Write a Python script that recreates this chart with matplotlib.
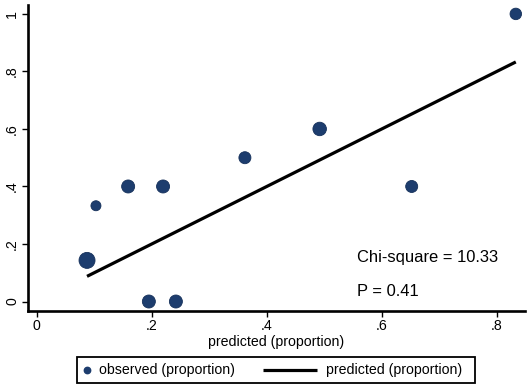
import matplotlib
matplotlib.use("Agg")
import matplotlib.pyplot as plt
from matplotlib.lines import Line2D
from matplotlib.patches import Rectangle

plt.rcParams['font.family'] = ['Liberation Sans', 'DejaVu Sans']

# data
predicted = [0.0875, 0.103, 0.159, 0.2197, 0.195, 0.242, 0.362, 0.492, 0.652, 0.833]
observed = [0.143, 0.333, 0.4, 0.4, 0.0, 0.0, 0.5, 0.6, 0.4, 1.0]
weights = [16, 10, 13, 13, 13, 13, 12, 13.5, 12, 11.5]  # relative marker diameters
xticks = [0, 0.2, 0.4, 0.6, 0.8]
xticklabels = ['0', '.2', '.4', '.6', '.8']
yticks = [0, 0.2, 0.4, 0.6, 0.8, 1.0]
yticklabels = ['0', '.2', '.4', '.6', '.8', '1']
legend_labels = ['observed (proportion)', 'predicted (proportion)']
chi_text = "Chi-square = 10.33"
p_text = "P = 0.41"

navy = '#1d3d6e'
W, H = 529, 390

fig = plt.figure(figsize=(W/100, H/100), dpi=100)
ax = fig.add_axes([27.5/W, 1-311/H, (525-27.5)/W, (311-5)/H])

sizes = [(w*0.72)**2 for w in weights]
ax.scatter(predicted, observed, s=sizes, color=navy, edgecolors='#15305a', linewidths=0.6, zorder=3)
order = sorted(range(len(predicted)), key=lambda i: predicted[i])
px = [predicted[i] for i in order]
ax.plot(px, px, color='black', lw=2.3, solid_capstyle='butt', zorder=2)

ax.set_xlim(-0.016, 0.849)
ax.set_ylim(-0.033, 1.031)
ax.set_xticks(xticks)
ax.set_xticklabels(xticklabels)
ax.set_yticks(yticks)
ax.set_yticklabels(yticklabels, rotation=90, va='center')
for s in ['top', 'right']:
    ax.spines[s].set_visible(False)
for s in ['left', 'bottom']:
    ax.spines[s].set_linewidth(1.9)
ax.tick_params(axis='both', length=4, width=1.0, labelsize=10.2, pad=2, color='black')
ax.set_xlabel('predicted (proportion)', fontsize=10.2, labelpad=1)

ax.text(0.557, 0.138, chi_text, fontsize=11.9, va='baseline', ha='left')
ax.text(0.557, 0.019, p_text, fontsize=11.9, va='baseline', ha='left')

# manual legend (figure coordinates)
def fx(p):
    return p / W

def fy(p):
    return 1 - p / H

fig.patches.append(Rectangle((fx(77), fy(383)), fx(475) - fx(77), fy(357) - fy(383),
                             transform=fig.transFigure, fill=False, edgecolor='black', lw=1.3))
fig.lines.append(Line2D([fx(87)], [fy(370)], transform=fig.transFigure, marker='o',
                        markersize=4.6, color=navy, linestyle='none'))
fig.text(fx(99), fy(370), legend_labels[0], fontsize=10.2, va='center', ha='left')
fig.lines.append(Line2D([fx(263), fx(317)], [fy(370), fy(370)], transform=fig.transFigure,
                        color='black', lw=2.3, solid_capstyle='butt'))
fig.text(fx(326), fy(370), legend_labels[1], fontsize=10.2, va='center', ha='left')

fig.savefig('out.png', dpi=100)
